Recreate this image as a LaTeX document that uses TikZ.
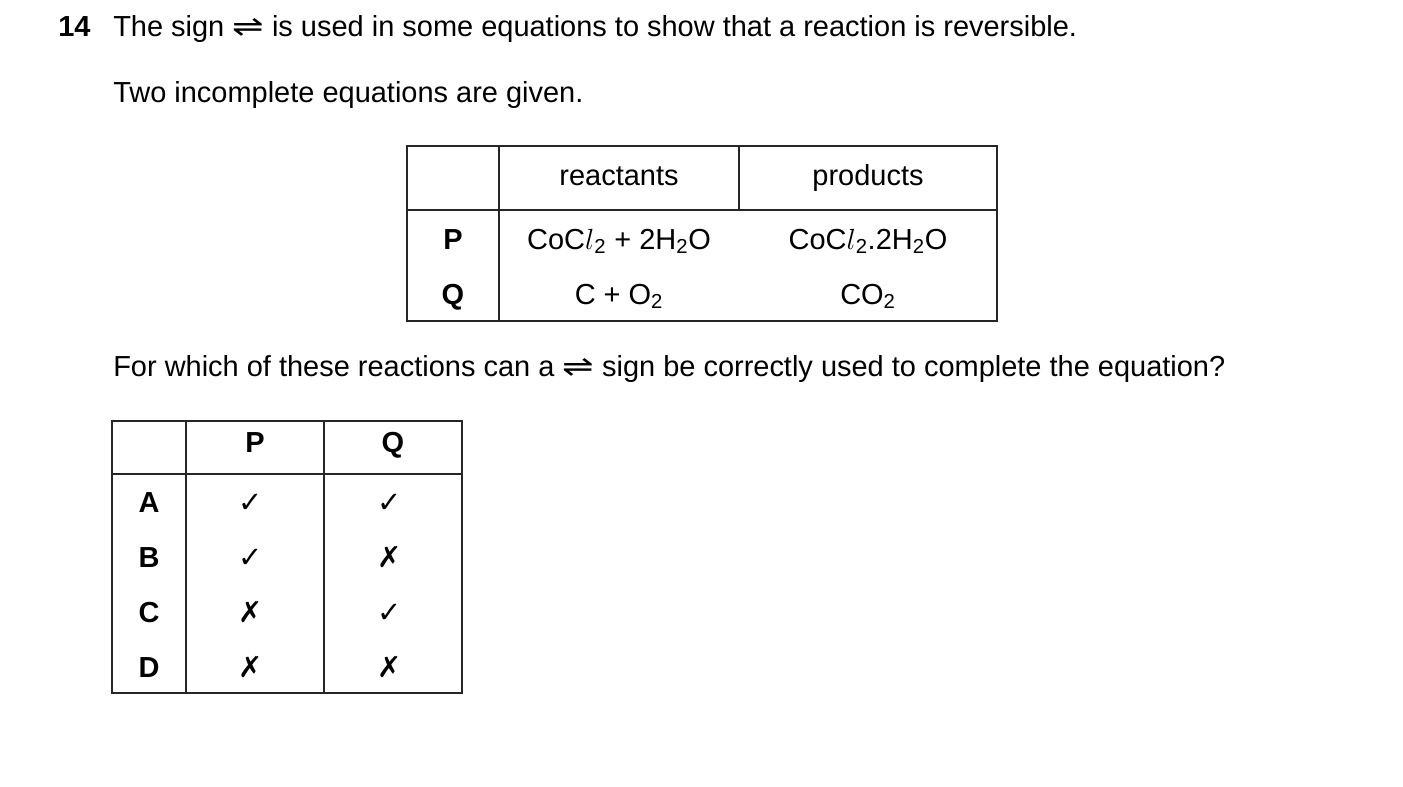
\documentclass[tikz,border=0pt]{standalone}
\usepackage{fontspec}
\setmainfont{Liberation Sans}
\newfontfamily\symfont{DejaVu Sans}
\usetikzlibrary{positioning}
\tikzset{
  txt/.style  = {anchor=west, inner sep=0pt, text height=1.5ex, text depth=.3ex, font=\fontsize{20.6}{24}\selectfont},
  cell/.style = {inner sep=0pt, text height=1.5ex, text depth=.3ex, font=\fontsize{20.6}{24}\selectfont},
  bcell/.style = {cell, font=\fontsize{20.6}{24}\selectfont\bfseries},
  grid/.style = {line width=0.9pt, black!85}
}
\newcommand{\eqsign}{{\symfont\scalebox{1.3}[1]{\char"21CC}}}
\newcommand{\tick}{{\symfont\char"2713}}
\newcommand{\cross}{{\symfont\char"2717}}
\newcommand{\chl}{C$l$}
\newcommand{\sub}[1]{\textsubscript{#1}}
\begin{document}
\begin{tikzpicture}[x=0.025cm, y=-0.025cm]
    \useasboundingbox (0,0) rectangle (1403,787);

    % question text
    \node[txt, font=\fontsize{20.6}{24}\selectfont\bfseries] (num) at (58,32) {14};
    \node[txt] (intro) at (113,32) {The sign \eqsign\ is used in some equations to show that a reaction is reversible.};
    \node[txt] (given) at (113,98) {Two incomplete equations are given.};
    \node[txt] (ask) at (113,372) {For which of these reactions can a \eqsign\ sign be correctly used to complete the equation?};

    % table of equations
    \draw[grid] (407,146) rectangle (997,321);
    \draw[grid] (407,210) -- (997,210);
    \draw[grid] (499,146) -- (499,321);
    \draw[grid] (739,146) -- (739,210);
    \node[cell] (hreact) at (619,181) {reactants};
    \node[cell] (hprod) at (868,181) {products};
    \node[bcell] (rowP) at (453,245) {P};
    \node[bcell] (rowQ) at (453,300) {Q};
    \node[cell] (reactP) at (619,245) {Co\chl\sub{2} + 2H\sub{2}O};
    \node[cell] (prodP) at (868,245) {Co\chl\sub{2}.2H\sub{2}O};
    \node[cell] (reactQ) at (619,300) {C + O\sub{2}};
    \node[cell] (prodQ) at (868,300) {CO\sub{2}};

    % answer table
    \draw[grid] (112,421) rectangle (462,693);
    \draw[grid] (112,474) -- (462,474);
    \draw[grid] (186,421) -- (186,693);
    \draw[grid] (324,421) -- (324,693);
    \node[bcell] (colP) at (255,448) {P};
    \node[bcell] (colQ) at (393,448) {Q};
    \foreach \opt/\y/\p/\q in {A/508/\tick/\tick, B/563/\tick/\cross, C/618/\cross/\tick, D/673/\cross/\cross} {
        \node[bcell] (opt\opt) at (149,\y) {\opt};
        \node[cell] (opt\opt P) at (251,\y) {\p};
        \node[cell] (opt\opt Q) at (390,\y) {\q};
    }
\end{tikzpicture}
\end{document}
